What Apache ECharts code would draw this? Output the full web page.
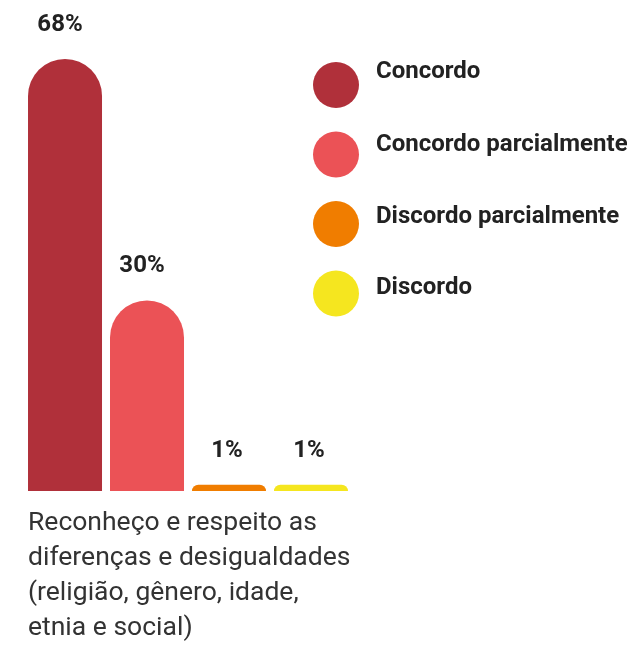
<!DOCTYPE html>
<html>
<head>
<meta charset="utf-8">
<script src="https://cdn.jsdelivr.net/npm/echarts@6/dist/echarts.min.js"></script>
<style>
  html, body { margin: 0; padding: 0; background: #fff; }
  #chart { width: 627px; height: 647px; }
</style>
</head>
<body>
<div id="chart"></div>
<script>
// Survey statement shown under the bars
const categories = ['Reconheço e respeito as\ndiferenças e desigualdades\n(religião, gênero, idade,\netnia e social)'];

// Answer options and their share of responses (%)
const answers = ['Concordo', 'Concordo parcialmente', 'Discordo parcialmente', 'Discordo'];
const shares = [68, 30, 1, 1];
const colors = ['#B0303A', '#EB5256', '#F07D00', '#F5E61F'];

const chart = echarts.init(document.getElementById('chart'));

const series = answers.map((name, i) => ({
  name: name,
  type: 'bar',
  data: [shares[i]],
  barWidth: 74,
  barGap: '10.8%',
  itemStyle: { color: colors[i], borderRadius: [37, 37, 0, 0] },
  label: {
    show: true,
    position: 'top',
    distance: 22,
    // value labels sit a touch left of the bar centre
    offset: [shares[i] >= 10 ? -5 : -2, 0],
    formatter: '{c}%',
    fontFamily: 'Roboto',
    fontWeight: 'bold',
    fontSize: 24,
    color: '#222'
  }
}));

// Legend captions sit above the middle of their dots; a spacer line
// under each caption lifts it by a slightly different amount per row.
const spacerHeights = [26, 19, 14, 12];
const legendRich = {
  t: { fontFamily: 'Roboto', fontWeight: 'bold', fontSize: 24, lineHeight: 24, color: '#222' }
};
spacerHeights.forEach((h, i) => {
  legendRich['g' + i] = { fontSize: 1, lineHeight: h };
});

chart.setOption({
  animation: false,
  textStyle: { fontFamily: 'Roboto' },
  grid: { left: 28, right: 279, top: 59, bottom: 156 },
  xAxis: {
    type: 'category',
    data: categories,
    axisLine: { show: false },
    axisTick: { show: false },
    axisLabel: { show: false }
  },
  yAxis: {
    type: 'value',
    min: 0,
    max: 68,
    show: false
  },
  title: {
    text: categories[0],
    left: 28,
    top: 506,
    padding: 0,
    textStyle: {
      fontFamily: 'Roboto',
      fontWeight: 'normal',
      fontSize: 26.5,
      lineHeight: 35,
      color: '#333'
    }
  },
  legend: {
    orient: 'vertical',
    left: 313,
    top: 60,
    padding: 0,
    icon: 'circle',
    itemWidth: 46,
    itemHeight: 46,
    itemGap: 23.5,
    selectedMode: false,
    formatter: name => '{t|' + name + '}\n{g' + answers.indexOf(name) + '| }',
    textStyle: {
      padding: [0, 0, 0, 12],
      rich: legendRich
    }
  },
  series: series
});
</script>
</body>
</html>
